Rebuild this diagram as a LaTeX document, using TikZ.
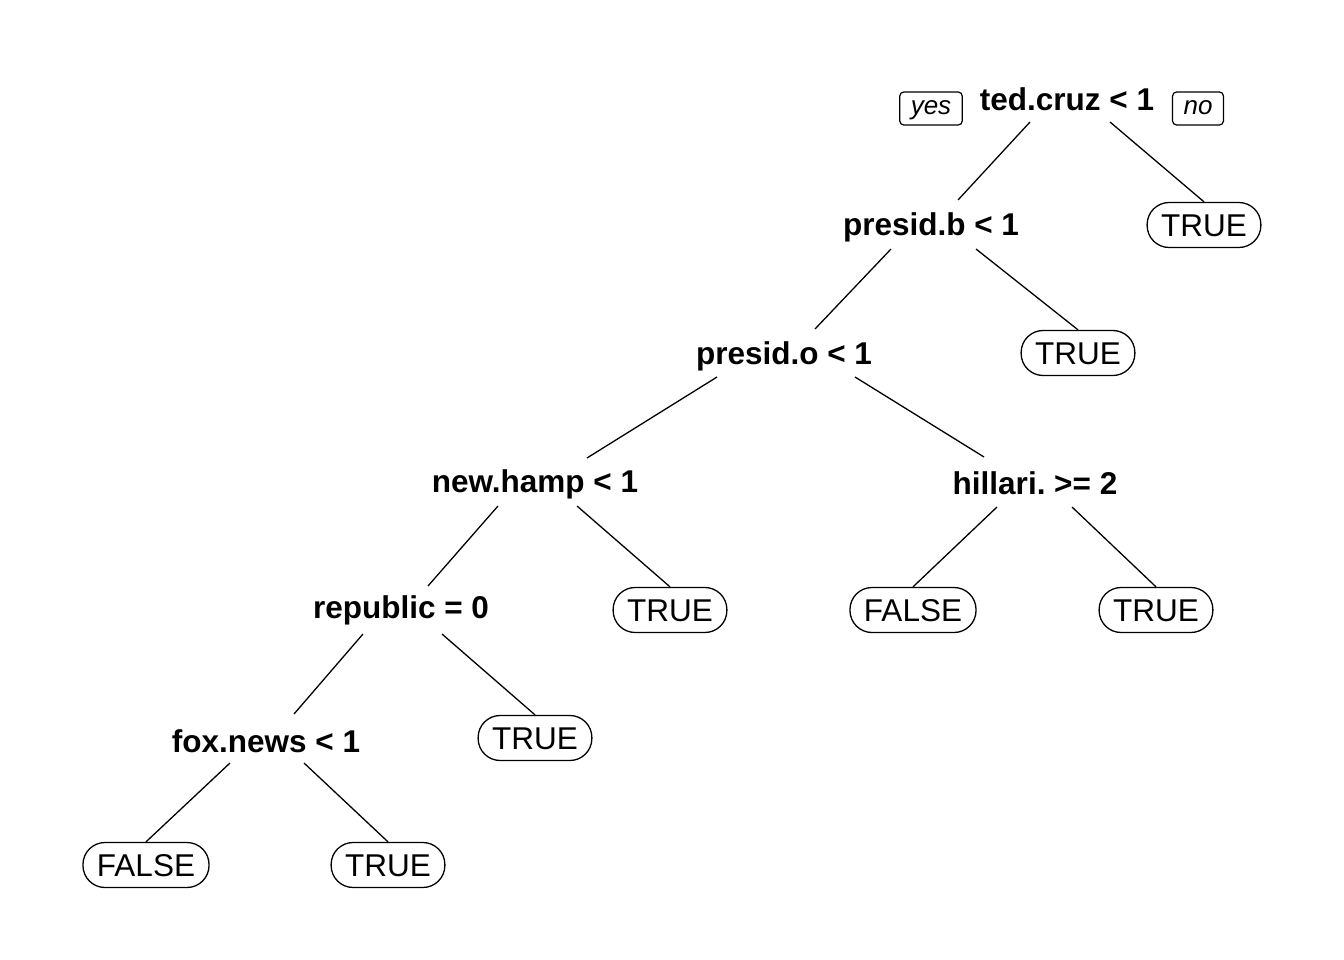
\documentclass[tikz,border=0pt]{standalone}
\usepackage{fontspec}
\setmainfont{Liberation Sans}
\usetikzlibrary{calc}
\frenchspacing
\begin{document}
\begin{tikzpicture}[x=1pt,y=-1pt,
  split/.style={font=\bfseries\fontsize{31.5}{36}\selectfont, inner sep=0pt, text height=22.5pt, text depth=0pt},
  leaf/.style={draw, line width=1.3pt, rounded corners=22pt, inner xsep=14pt, inner ysep=11.25pt,
    font=\fontsize{31.5}{36}\selectfont, text height=22.5pt, text depth=0pt},
  yn/.style={draw, line width=1.2pt, rounded corners=4pt, inner xsep=11pt, inner ysep=5.5pt,
    font=\itshape\fontsize{26}{30}\selectfont, text height=17pt, text depth=5pt},
  edge/.style={line width=1.3pt}]
\useasboundingbox (0,0) rectangle (1344,960);
% split nodes
\node[split] (ted) at (1067,99) {ted.cruz < 1};
\node[split] (presb) at (931,224) {presid.b < 1};
\node[split] (preso) at (784,353) {presid.o < 1};
\node[split] (newh) at (535,481) {new.hamp < 1};
\node[split] (hill) at (1035,483) {hillari. >= 2};
\node[split] (repub) at (401,607.5) {republic = 0};
\node[split] (fox) at (266,741) {fox.news < 1};
% yes / no
\node[yn] (yes) at (931,108.5) {yes};
\node[yn] (no) at (1198,108.5) {no};
% leaves
\node[leaf] (t1) at (1204,225) {TRUE};
\node[leaf] (t2) at (1078,353) {TRUE};
\node[leaf] (t3) at (670,610) {TRUE};
\node[leaf] (f2) at (913,610) {FALSE};
\node[leaf] (t4) at (1156,610) {TRUE};
\node[leaf] (t5) at (535,738) {TRUE};
\node[leaf] (f3) at (146,865) {FALSE};
\node[leaf] (t6) at (388,865) {TRUE};
% edges
\draw[edge] ($(ted)+(-37,23)$) -- ($(presb)+(27,-24)$);
\draw[edge] ($(ted)+(43,23)$) -- (t1.north);
\draw[edge] ($(presb)+(-40,25)$) -- ($(preso)+(31,-24)$);
\draw[edge] ($(presb)+(45,25)$) -- (t2.north);
\draw[edge] ($(preso)+(-67,24)$) -- ($(newh)+(52,-23)$);
\draw[edge] ($(preso)+(71,24)$) -- ($(hill)+(-51,-26)$);
\draw[edge] ($(newh)+(-37,25)$) -- ($(repub)+(27,-21.5)$);
\draw[edge] ($(newh)+(42,25)$) -- (t3.north);
\draw[edge] ($(hill)+(-38,24)$) -- (f2.north);
\draw[edge] ($(hill)+(37,24)$) -- (t4.north);
\draw[edge] ($(repub)+(-38,26.5)$) -- ($(fox)+(28,-27)$);
\draw[edge] ($(repub)+(41,26.5)$) -- (t5.north);
\draw[edge] ($(fox)+(-36,22)$) -- (f3.north);
\draw[edge] ($(fox)+(38,22)$) -- (t6.north);
\end{tikzpicture}
\end{document}
